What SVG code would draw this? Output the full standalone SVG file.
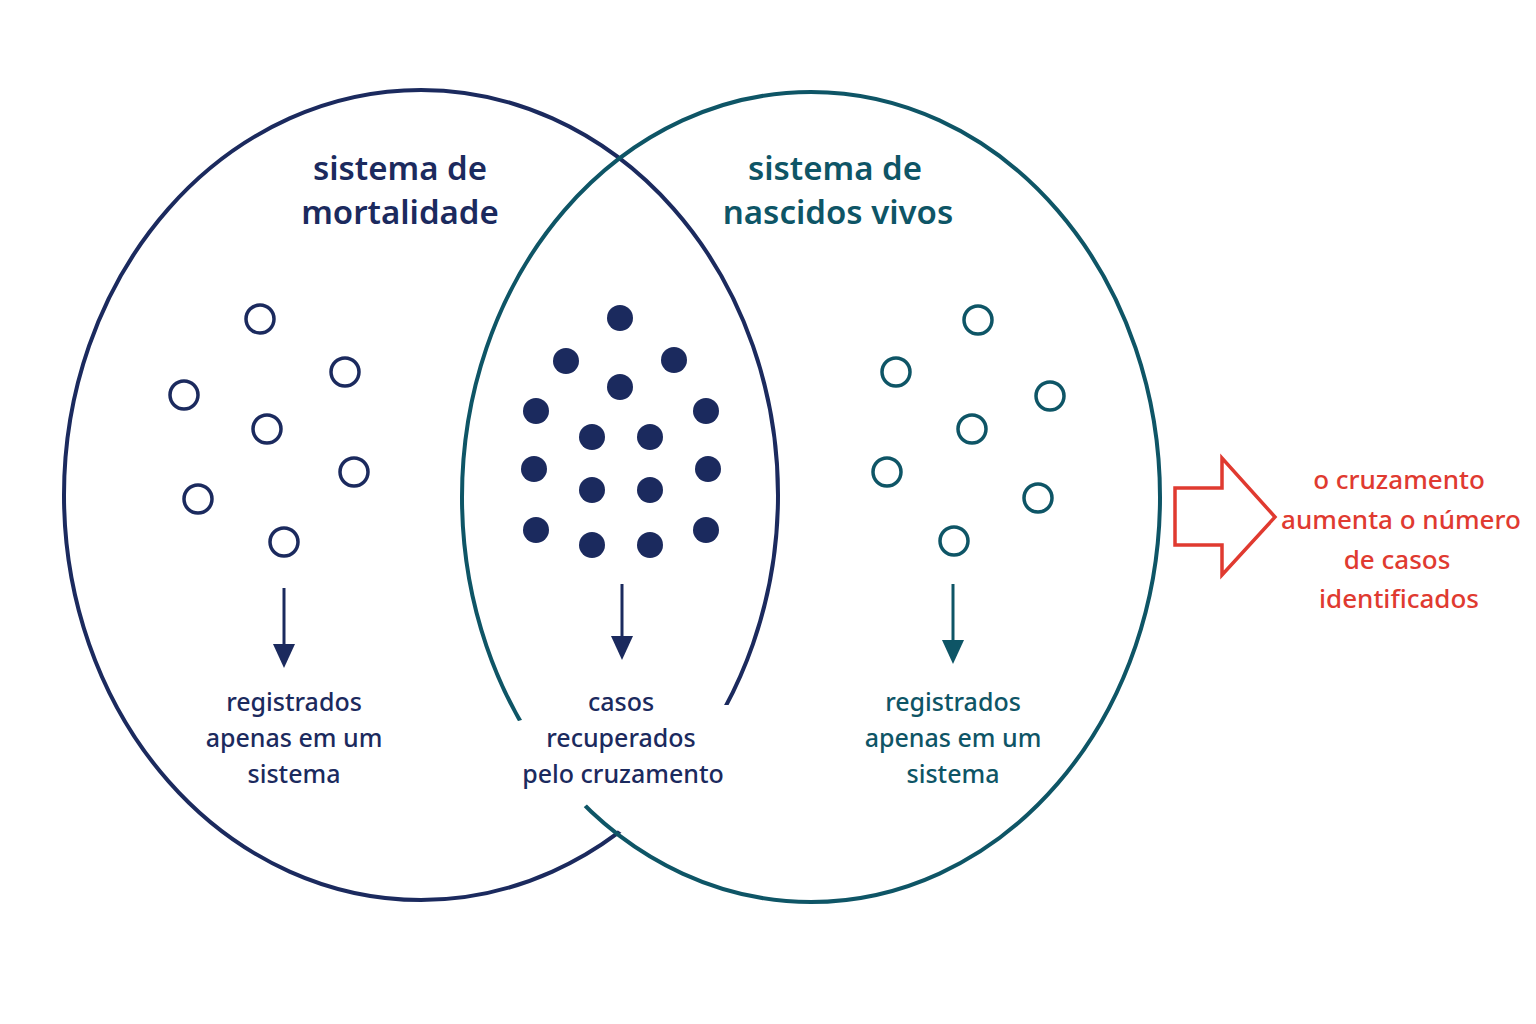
<svg xmlns="http://www.w3.org/2000/svg" width="1536" height="1024" viewBox="0 0 1536 1024">
<style>
.t{font-family:"Noto Sans","Open Sans",sans-serif;text-anchor:middle}
.h{font-size:33px;font-weight:600}
.l{font-size:25px;font-weight:500}
.n{fill:#1b2a5e}.g{fill:#0e5566}
.ho{fill:none;stroke:#1b2a5e;stroke-width:3.5}
.hg{fill:none;stroke:#0e5566;stroke-width:3.5}
</style>
<defs>
<marker id="an" markerWidth="24" markerHeight="24" refX="2" refY="12" orient="auto" markerUnits="userSpaceOnUse" viewBox="0 0 24 24"><path d="M0,1 L24,12 L0,23 Z" fill="#1b2a5e"/></marker>
<marker id="ag" markerWidth="24" markerHeight="24" refX="2" refY="12" orient="auto" markerUnits="userSpaceOnUse" viewBox="0 0 24 24"><path d="M0,1 L24,12 L0,23 Z" fill="#0e5566"/></marker>
<mask id="ml"><rect width="1536" height="1024" fill="#fff"/><path d="M700,705 L770,705 L640,845 L605,822 Z" fill="#000"/></mask>
<mask id="mr"><rect width="1536" height="1024" fill="#fff"/><path d="M515,722 L548,712 L598,795 L578,812 Z" fill="#000"/></mask>
</defs>
<rect width="1536" height="1024" fill="#fff"/>
<g id="sets">
<ellipse id="mortalidade" mask="url(#ml)" cx="421" cy="495" rx="357" ry="405" fill="none" stroke="#1b2a5e" stroke-width="4"/>
<ellipse id="nascidos" mask="url(#mr)" cx="811" cy="497" rx="349" ry="405" fill="none" stroke="#0e5566" stroke-width="4"/>
</g>
<g id="titles" class="t h">
<text class="n" x="400" y="180">sistema de</text>
<text class="n" x="400" y="224">mortalidade</text>
<text class="g" x="835" y="180">sistema de</text>
<text class="g" x="838" y="224">nascidos vivos</text>
</g>
<g id="left-dots" class="ho">
<circle cx="260" cy="319" r="14"/><circle cx="345" cy="372" r="14"/><circle cx="184" cy="395" r="14"/><circle cx="267" cy="429" r="14"/><circle cx="354" cy="472" r="14"/><circle cx="198" cy="499" r="14"/><circle cx="284" cy="542" r="14"/>
</g>
<g id="center-dots" class="n">
<circle cx="620" cy="318" r="13"/><circle cx="566" cy="361" r="13"/><circle cx="674" cy="360" r="13"/><circle cx="620" cy="387" r="13"/><circle cx="536" cy="411" r="13"/><circle cx="706" cy="411" r="13"/><circle cx="592" cy="437" r="13"/><circle cx="650" cy="437" r="13"/><circle cx="534" cy="469" r="13"/><circle cx="708" cy="469" r="13"/><circle cx="592" cy="490" r="13"/><circle cx="650" cy="490" r="13"/><circle cx="536" cy="530" r="13"/><circle cx="706" cy="530" r="13"/><circle cx="592" cy="545" r="13"/><circle cx="650" cy="545" r="13"/>
</g>
<g id="right-dots" class="hg">
<circle cx="978" cy="320" r="14"/><circle cx="896" cy="372" r="14"/><circle cx="1050" cy="396" r="14"/><circle cx="972" cy="429" r="14"/><circle cx="887" cy="472" r="14"/><circle cx="1038" cy="498" r="14"/><circle cx="954" cy="541" r="14"/>
</g>
<g id="connectors">
<line x1="284" y1="588" x2="284" y2="646" stroke="#1b2a5e" stroke-width="3" marker-end="url(#an)"/>
<line x1="622" y1="584" x2="622" y2="638" stroke="#1b2a5e" stroke-width="3" marker-end="url(#an)"/>
<line x1="953" y1="584" x2="953" y2="642" stroke="#0e5566" stroke-width="3" marker-end="url(#ag)"/>
</g>
<g id="labels" class="t l">
<text class="n" x="294" y="711">registrados</text><text class="n" x="294" y="747">apenas em um</text><text class="n" x="294" y="783">sistema</text>
<text class="n" x="621" y="711">casos</text><text class="n" x="621" y="747">recuperados</text><text class="n" x="623" y="783">pelo cruzamento</text>
<text class="g" x="953" y="711">registrados</text><text class="g" x="953" y="747">apenas em um</text><text class="g" x="953" y="783">sistema</text>
</g>
<g id="result">
<path d="M1175,488 L1222,488 L1222,458 L1275,517 L1222,575 L1222,545 L1175,545 Z" fill="none" stroke="#e03a30" stroke-width="3.5" stroke-linejoin="miter"/>
<g class="t" style="font-size:26px;font-weight:500;fill:#e03a30">
<text x="1399" y="489">o cruzamento</text><text x="1401" y="529">aumenta o número</text><text x="1397" y="569">de casos</text><text x="1399" y="608">identificados</text>
</g>
</g>
</svg>
